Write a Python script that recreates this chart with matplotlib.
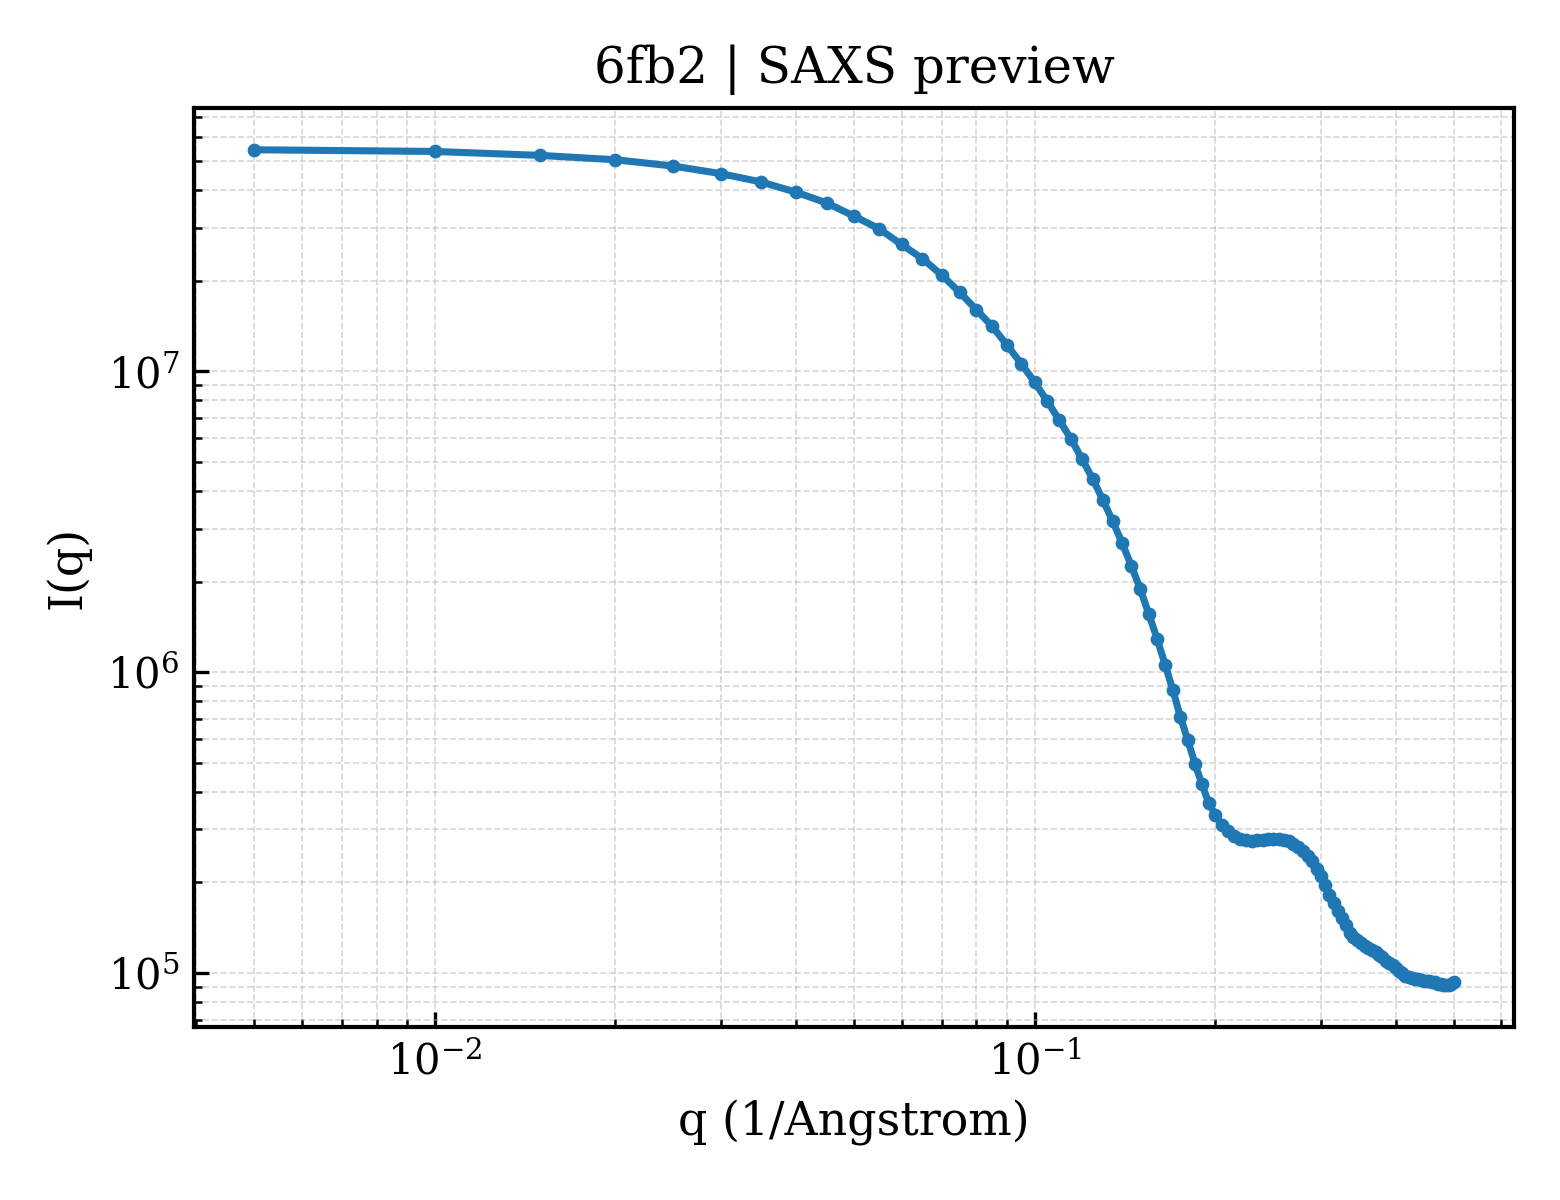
import numpy as np
import matplotlib
matplotlib.use("Agg")
import matplotlib.pyplot as plt

title = "6fb2 | SAXS preview"
xlabel = "q (1/Angstrom)"
ylabel = "I(q)"

q = [0.005 * k for k in range(1, 101)]

intensity = [
    5.45e7, 5.38e7, 5.22e7, 5.05e7, 4.81e7, 4.54e7, 4.26e7, 3.94e7, 3.63e7, 3.28e7,
    2.98e7, 2.64e7, 2.37e7, 2.09e7, 1.83e7, 1.60e7, 1.41e7, 1.22e7, 1.06e7, 9.2e6,
    7.95e6, 6.87e6, 5.95e6, 5.11e6, 4.38e6, 3.73e6, 3.17e6, 2.68e6, 2.25e6, 1.89e6,
    1.56e6, 1.29e6, 1.06e6, 8.7e5, 7.10e5, 5.94e5, 4.97e5, 4.25e5, 3.68e5, 3.36e5,
    3.11e5, 2.96e5, 2.86e5, 2.78e5, 2.76e5, 2.75e5, 2.76e5, 2.77e5, 2.78e5, 2.79e5,
    2.78e5, 2.77e5, 2.74e5, 2.69e5, 2.63e5, 2.54e5, 2.44e5, 2.35e5, 2.22e5, 2.10e5,
    1.96e5, 1.82e5, 1.71e5, 1.61e5, 1.52e5, 1.44e5, 1.36e5, 1.32e5, 1.29e5, 1.26e5,
    1.23e5, 1.215e5, 1.19e5, 1.175e5, 1.15e5, 1.13e5, 1.10e5, 1.08e5, 1.06e5, 1.04e5,
    1.018e5, 9.98e4, 9.79e4, 9.67e4, 9.60e4, 9.55e4, 9.52e4, 9.46e4, 9.44e4, 9.43e4,
    9.42e4, 9.36e4, 9.30e4, 9.22e4, 9.17e4, 9.14e4, 9.11e4, 9.15e4, 9.21e4, 9.37e4,
]

plt.rcParams["font.family"] = ["DejaVu Serif"]
plt.rcParams["font.size"] = 10

fig, ax = plt.subplots(figsize=(5.2, 4.0), dpi=300)
fig.subplots_adjust(left=0.1244, right=0.9705, bottom=0.1442, top=0.91)

ax.loglog(q, intensity, "-o", color="#1f77b4", linewidth=1.7, markersize=2.3)

ax.set_title(title, fontsize=12)
ax.set_xlabel(xlabel, fontsize=11)
ax.set_ylabel(ylabel, fontsize=11)

for s in ax.spines.values():
    s.set_linewidth(1.0)
ax.tick_params(which="both", direction="in", top=False, right=False)
ax.grid(True, which="both", linestyle="--", linewidth=0.4, color="#b0b0b0", alpha=0.5)

fig.savefig("out.png", dpi=300)
